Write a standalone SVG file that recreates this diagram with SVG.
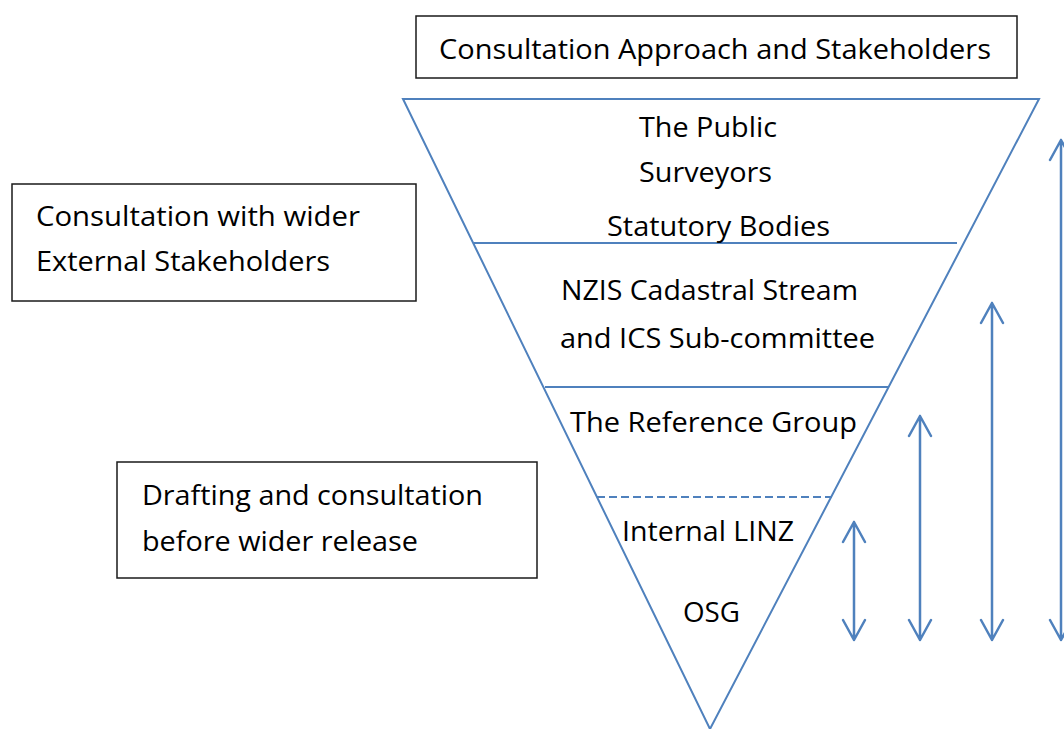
<svg xmlns="http://www.w3.org/2000/svg" width="1064" height="729" viewBox="0 0 1064 729">
  <defs>
    <style>
      .box { fill: #ffffff; stroke: #1a1a1a; stroke-width: 1.5; }
      .blue { fill: none; stroke: #4F81BD; stroke-width: 2; }
      .arrow { fill: none; stroke: #4F81BD; stroke-width: 2.5; stroke-linecap: round; stroke-linejoin: round; }
      .t { font-family: "Open Sans", "Noto Sans", "Liberation Sans", sans-serif; font-size: 27px; fill: #000000; }
    </style>
  </defs>
  <rect width="1064" height="729" fill="#ffffff"/>

  <g id="title">
    <rect class="box" x="416" y="16" width="601" height="62"/>
    <text class="t" x="439" y="59" textLength="552" lengthAdjust="spacingAndGlyphs">Consultation Approach and Stakeholders</text>
  </g>

  <g id="funnel">
    <polygon class="blue" points="403,99 1039,99 710,729"/>
    <line class="blue" x1="474" y1="243" x2="957" y2="243"/>
    <line class="blue" x1="545" y1="387" x2="889" y2="387"/>
    <line class="blue" x1="597" y1="497" x2="832" y2="497" stroke-dasharray="8 4"/>
  </g>

  <g id="layer-public">
    <text class="t" x="639" y="137" textLength="138" lengthAdjust="spacingAndGlyphs">The Public</text>
    <text class="t" x="639" y="182" textLength="133" lengthAdjust="spacingAndGlyphs">Surveyors</text>
    <text class="t" x="607" y="236" textLength="223" lengthAdjust="spacingAndGlyphs">Statutory Bodies</text>
  </g>

  <g id="layer-nzis">
    <text class="t" x="561" y="300" textLength="297" lengthAdjust="spacingAndGlyphs">NZIS Cadastral Stream</text>
    <text class="t" x="560" y="348" textLength="315" lengthAdjust="spacingAndGlyphs">and ICS Sub-committee</text>
  </g>

  <g id="layer-reference">
    <text class="t" x="570" y="432" textLength="287" lengthAdjust="spacingAndGlyphs">The Reference Group</text>
  </g>

  <g id="layer-internal">
    <text class="t" x="622" y="541" textLength="172" lengthAdjust="spacingAndGlyphs">Internal LINZ</text>
    <text class="t" x="683" y="622" textLength="57" lengthAdjust="spacingAndGlyphs">OSG</text>
  </g>

  <g id="external-box">
    <rect class="box" x="12" y="184" width="404" height="117"/>
    <text class="t" x="36" y="226" textLength="324" lengthAdjust="spacingAndGlyphs">Consultation with wider</text>
    <text class="t" x="36" y="271" textLength="294" lengthAdjust="spacingAndGlyphs">External Stakeholders</text>
  </g>

  <g id="drafting-box">
    <rect class="box" x="117" y="462" width="420" height="116"/>
    <text class="t" x="142" y="505" textLength="341" lengthAdjust="spacingAndGlyphs">Drafting and consultation</text>
    <text class="t" x="142" y="551" textLength="276" lengthAdjust="spacingAndGlyphs">before wider release</text>
  </g>

  <g id="connectors">
    <path class="arrow" d="M854,522 L854,640 M843,542 L854,522 L865,542 M843,620 L854,640 L865,620"/>
    <path class="arrow" d="M920,416 L920,640 M909,436 L920,416 L931,436 M909,620 L920,640 L931,620"/>
    <path class="arrow" d="M992,303 L992,640 M981,323 L992,303 L1003,323 M981,620 L992,640 L1003,620"/>
    <path class="arrow" d="M1061,140 L1061,640 M1050,160 L1061,140 L1072,160 M1050,620 L1061,640 L1072,620"/>
  </g>
</svg>
